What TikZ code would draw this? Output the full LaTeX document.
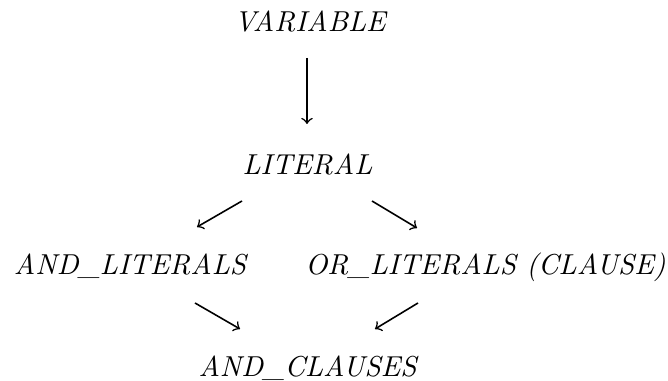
\documentclass[tikz,border=0pt]{standalone}
\usetikzlibrary{calc}
\begin{document}
\begin{tikzpicture}[x=0.347pt,y=-0.347pt,
  lbl/.style={font=\itshape, inner sep=0pt, anchor=base},
  arr/.style={->, line width=0.55pt}]
\useasboundingbox (0,0) rectangle (668,381);
\node[lbl] (var) at (310,32) {VARIABLE};
\node[lbl] (lit) at (307.5,175) {LITERAL};
\node[lbl] (andl) at (130,275) {AND\_LITERALS};
\node[lbl] (orl) at (485.5,275) {OR\_LITERALS (CLAUSE)};
\node[lbl] (andc) at (307.5,377) {AND\_CLAUSES};
\draw[arr] ($(var.base)+(-3,26)$) -- ($(lit.base)+(-0.5,-51)$);
\draw[arr] ($(lit.base)+(-65.5,26)$) -- ($(andl.base)+(67,-48)$);
\draw[arr] ($(lit.base)+(64.5,26)$) -- ($(orl.base)+(-68.5,-47)$);
\draw[arr] ($(andl.base)+(65,28)$) -- ($(andc.base)+(-67.5,-48)$);
\draw[arr] ($(orl.base)+(-67.5,28)$) -- ($(andc.base)+(67.5,-48)$);
\end{tikzpicture}
\end{document}
